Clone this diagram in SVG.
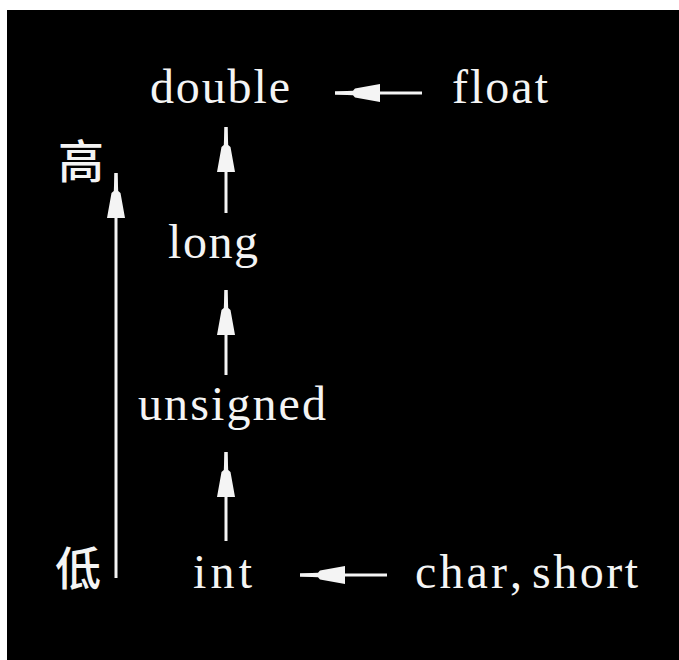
<svg xmlns="http://www.w3.org/2000/svg" width="679" height="660" viewBox="0 0 679 660">
  <style>
    .lbl { font-family: "Liberation Serif", "Times New Roman", serif; font-size: 48px; fill: #f4f4f4; }
    .cjk { font-family: "Noto Sans CJK SC", "Noto Sans CJK JP", sans-serif; font-size: 46px; fill: #f4f4f4; font-weight: 500; }
    .conn { stroke: #f4f4f4; stroke-width: 3; fill: none; marker-end: url(#head); }
  </style>
  <defs>
    <!-- narrow needle tip followed by a wide trapezoid body -->
    <marker id="head" markerUnits="userSpaceOnUse" markerWidth="50" markerHeight="24" viewBox="0 -12 50 24" refX="45" refY="0" orient="auto">
      <polygon points="45,-1.5 27,-2.2 25,-4.5 0,-9 0,9 25,4.5 27,2.2 45,1.5" fill="#f4f4f4"/>
    </marker>
  </defs>

  <rect x="0" y="0" width="679" height="660" fill="#ffffff"/>
  <rect x="7" y="10" width="672" height="650" fill="#000000"/>

  <g id="connectors">
    <line class="conn" x1="116" y1="578" x2="116" y2="173"/>
    <line class="conn" x1="226" y1="213" x2="226" y2="127"/>
    <line class="conn" x1="226" y1="375" x2="226" y2="290"/>
    <line class="conn" x1="226" y1="541" x2="226" y2="452"/>
    <line class="conn" x1="422" y1="93" x2="335" y2="93"/>
    <line class="conn" x1="387" y1="575" x2="300" y2="575"/>
  </g>

  <g id="high"><text class="cjk" x="58" y="178">高</text></g>
  <g id="low"><text class="cjk" x="55" y="585">低</text></g>

  <g id="double"><text class="lbl" x="150" y="103" textLength="140" lengthAdjust="spacing">double</text></g>
  <g id="float"><text class="lbl" x="452" y="103" textLength="96" lengthAdjust="spacing">float</text></g>
  <g id="long"><text class="lbl" x="168" y="258" textLength="90" lengthAdjust="spacing">long</text></g>
  <g id="unsigned"><text class="lbl" x="138" y="420" textLength="188" lengthAdjust="spacing">unsigned</text></g>
  <g id="int"><text class="lbl" x="193" y="588" textLength="59" lengthAdjust="spacing">int</text></g>
  <g id="char-short"><text class="lbl" y="588"><tspan x="415" textLength="92" lengthAdjust="spacing">char</tspan><tspan x="510">,</tspan><tspan x="532" textLength="106" lengthAdjust="spacing">short</tspan></text></g>
</svg>
